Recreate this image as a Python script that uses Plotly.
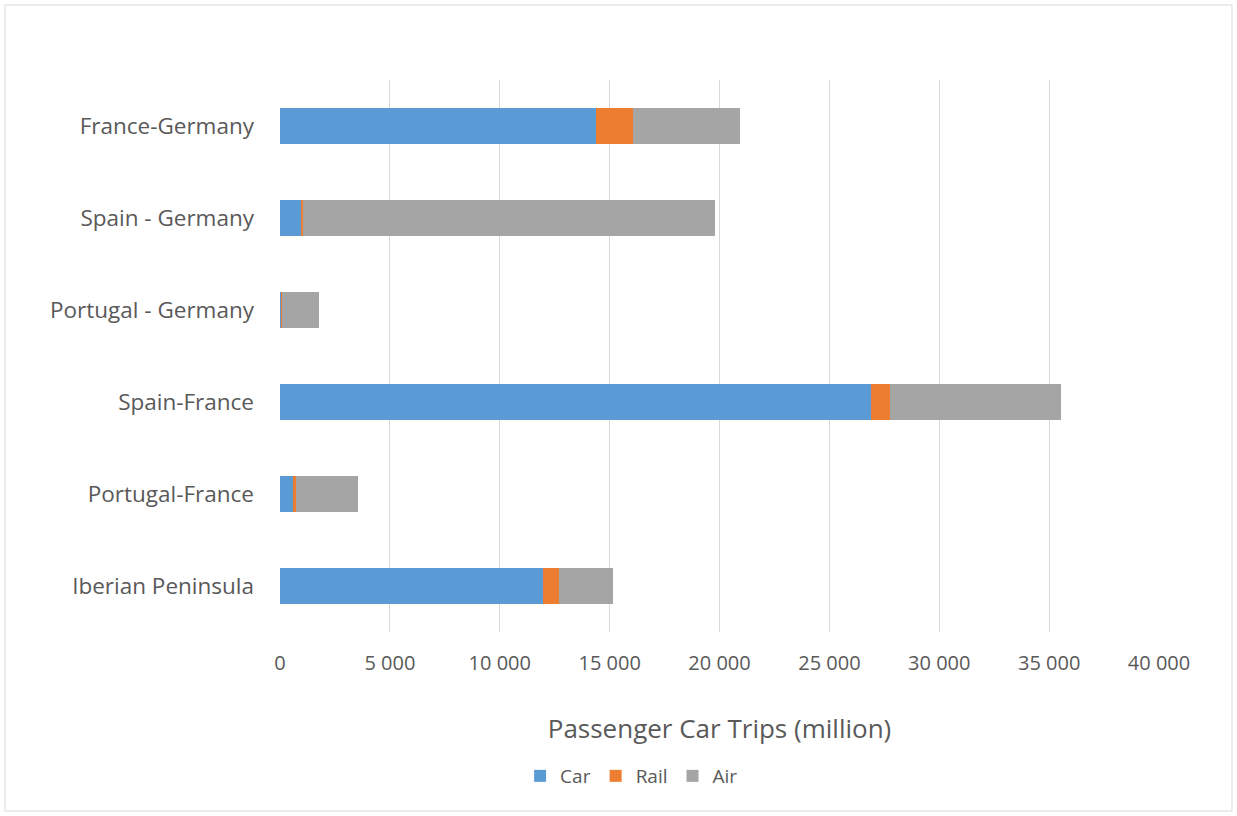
import plotly.graph_objects as go

categories = ["France-Germany", "Spain - Germany", "Portugal - Germany",
              "Spain-France", "Portugal-France", "Iberian Peninsula"]
car = [14400, 990, 80, 26900, 600, 11980]
rail = [1680, 40, 20, 840, 150, 730]
air = [4850, 18780, 1680, 7780, 2780, 2460]

colors = {"Car": "#5b9bd5", "Rail": "#ed7d31", "Air": "#a5a5a5"}
FONT = "Open Sans"
TXT = "#595959"

fig = go.Figure()
for name, vals in [("Car", car), ("Rail", rail), ("Air", air)]:
    fig.add_trace(go.Bar(y=categories, x=vals, name=name, orientation="h",
                         marker=dict(color=colors[name], line=dict(width=0)),
                         width=0.4))

L, R, T, B = 280, 1159, 80, 632
W, H = 1237, 816
pw, ph = R - L, B - T

fig.update_layout(
    width=W, height=H,
    barmode="stack",
    plot_bgcolor="white", paper_bgcolor="white",
    margin=dict(l=L, r=W - R, t=T, b=H - B),
    separators=". ",
    font=dict(family=FONT, color=TXT, size=18),
    xaxis=dict(range=[0, 40000], dtick=5000, tickformat=",d",
               showgrid=True, gridcolor="#d9d9d9", gridwidth=1,
               zeroline=False, showline=False, ticks="",
               ticklabelstandoff=17,
               tickfont=dict(size=20, color=TXT),
               title=dict(text="Passenger Car Trips (million)",
                          font=dict(size=26, color=TXT), standoff=44)),
    yaxis=dict(autorange="reversed", showgrid=False, zeroline=False,
               showline=False, ticks="", ticklabelstandoff=25,
               tickfont=dict(size=22.5, color=TXT)),
    legend=dict(orientation="h", x=0.4, xanchor="center",
                y=(B - 776) / ph, yanchor="middle", itemwidth=30,
                font=dict(size=19, color=TXT), traceorder="normal"),
    shapes=[dict(type="rect", xref="paper", yref="paper",
                 x0=(5 - L) / pw, x1=(1232 - L) / pw,
                 y0=(B - 811) / ph, y1=(B - 5) / ph,
                 line=dict(color="#d9d9d9", width=1), layer="below")],
)

fig.write_html("out.html", config={"displayModeBar": False},
               post_script="document.body.style.margin='0';")
